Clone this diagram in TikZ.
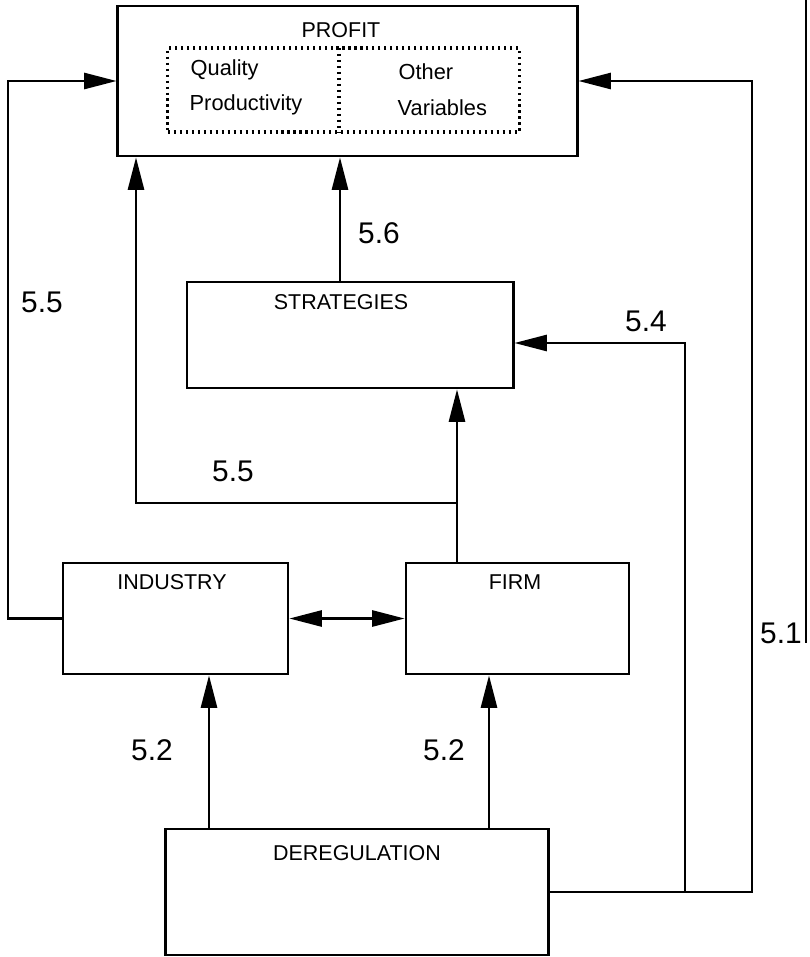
\documentclass[tikz,border=0pt]{standalone}
\usepackage{fontspec}
\setmainfont{Liberation Sans}
\usetikzlibrary{arrows.meta}
\tikzset{
  box/.style={draw, line width=0.8pt, inner sep=0pt},
  dots/.style={line width=0.9pt, dash pattern=on 0.6pt off 1.1pt},
  dotbox/.style={draw, dots, inner sep=0pt},
  title/.style={font=\fontsize{6.1pt}{7pt}\selectfont, inner sep=0pt},
  small/.style={font=\fontsize{6.2pt}{7pt}\selectfont, inner sep=0pt, anchor=west},
  lab/.style={font=\fontsize{8.5pt}{10pt}\selectfont, inner sep=0pt},
  conn/.style={line width=0.6pt},
  arr/.style={conn, -{Triangle[length=9.2pt,width=4.6pt]}},
  darr/.style={conn, {Triangle[length=9.2pt,width=4.6pt]}-{Triangle[length=9.2pt,width=4.6pt]}}
}
\begin{document}
\begin{tikzpicture}[x=0.01cm,y=-0.01cm]
\useasboundingbox (0,0) rectangle (810,957);
% boxes
\node[box, minimum width=4.59cm, minimum height=1.50cm] (profit) at (347.5,81) {};
\node[dotbox, minimum width=3.51cm, minimum height=0.84cm] (inner) at (343.5,90) {};
\coordinate (divT) at (339,48);
\coordinate (divB) at (339,132);
\draw[dots] (divT) -- (divB);
\node[box, minimum width=3.26cm, minimum height=1.06cm] (strat) at (350,335) {};
\node[box, minimum width=2.25cm, minimum height=1.11cm] (industry) at (175.5,618.5) {};
\node[box, minimum width=2.23cm, minimum height=1.11cm] (firm) at (517.5,618.5) {};
\node[box, minimum width=3.82cm, minimum height=1.26cm] (dereg) at (357,892) {};
% titles
\node[title] (tprofit) at (341,30) {PROFIT};
\node[title] (tstrat) at (341,302) {STRATEGIES};
\node[title] (tind) at (172,582) {INDUSTRY};
\node[title] (tfirm) at (515,582) {FIRM};
\node[title] (tdereg) at (357,853) {DEREGULATION};
\node[small] (quality) at (190,70) {Quality};
\node[small] (prod) at (189,105) {Productivity};
\node[small] (other) at (398,72) {Other};
\node[small] (vars) at (397,108) {Variables};
% labels
\node[lab] (l55a) at (42,302) {5.5};
\node[lab] (l56) at (379,233) {5.6};
\node[lab] (l54) at (646,321) {5.4};
\node[lab] (l55b) at (233,471) {5.5};
\node[lab] (l52a) at (152,750) {5.2};
\node[lab] (l52b) at (444,750) {5.2};
\node[lab] (l51) at (781,633) {5.1};
% coordinates
\coordinate (L1) at (8,618.5);
\coordinate (L2) at (8,81);
\coordinate (R1) at (752,892);
\coordinate (R2) at (752,81);
\coordinate (J54) at (685,892);
\coordinate (C54) at (685,343);
\coordinate (S56) at (340,282);
\coordinate (F1) at (457,563);
\coordinate (J55) at (457,503);
\coordinate (C55) at (136,503);
\coordinate (D1) at (209,829);
\coordinate (D2) at (489,829);
\coordinate (E1) at (806,0);
\coordinate (E2) at (806,643);
% connectors
\draw[arr] (industry.west) -- (L1) -- (L2) -- (profit.west);
\draw[arr] (dereg.east) -- (R1) -- (R2) -- (profit.east);
\draw[arr] (J54) -- (C54) -- (strat.east |- C54);
\draw[arr] (S56) -- (S56 |- profit.south);
\draw[arr] (F1) -- (F1 |- strat.south);
\draw[arr] (J55) -- (C55) -- (C55 |- profit.south);
\draw[darr] (industry.east) -- (firm.west);
\draw[arr] (D1) -- (D1 |- industry.south);
\draw[arr] (D2) -- (D2 |- firm.south);
% page edge
\draw[line width=0.35pt] (E1) -- (E2);
\end{tikzpicture}
\end{document}
